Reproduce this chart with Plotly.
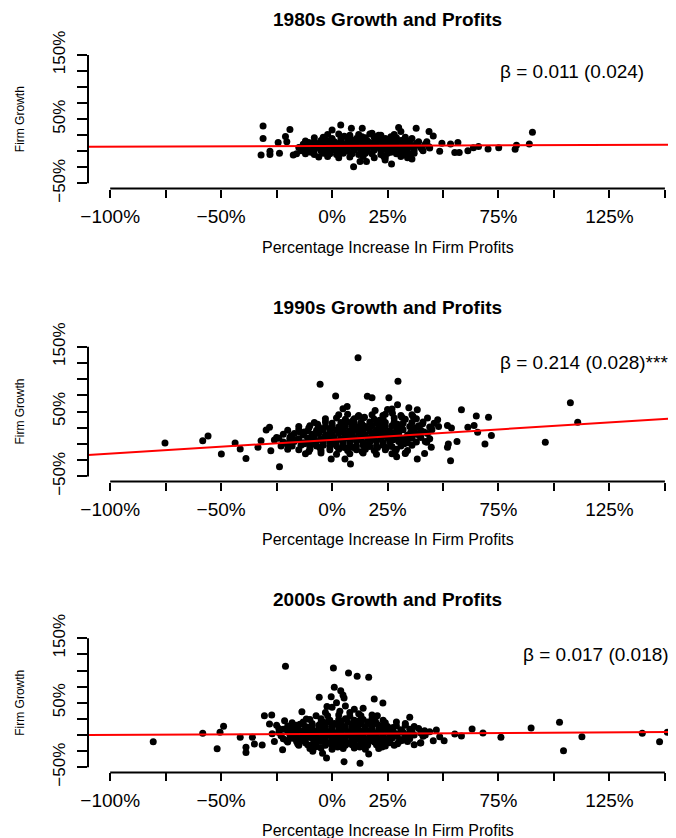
import plotly.graph_objects as go

# ---------------- data ----------------
titles = ["1980s Growth and Profits", "1990s Growth and Profits", "2000s Growth and Profits"]
beta_labels = ["β = 0.011 (0.024)", "β = 0.214 (0.028)***", "β = 0.017 (0.018)"]
beta_x = [0.75, 0.75, 0.85]
beta_y = [1.25, 1.25, 1.25]
intercepts = [0.084, 0.065, 0.019]
slopes = [0.011, 0.214, 0.017]

x_tick_vals = [-1.0, -0.75, -0.5, -0.25, 0.0, 0.25, 0.5, 0.75, 1.0, 1.25, 1.5]
x_tick_text = ["−100%", "", "−50%", "", "0%", "25%", "", "75%", "", "125%", ""]
y_tick_vals = [-0.5, -0.25, 0.0, 0.25, 0.5, 0.75, 1.0, 1.25, 1.5]
y_tick_text = ["−50%", "", "", "", "50%", "", "", "", "150%"]
x_label = "Percentage Increase In Firm Profits"
y_label = "Firm Growth"

# (profit increase, firm growth) pairs
points_1980s = [
    (-0.311, 0.395), (-0.311, 0.20), (-0.32, -0.057), (-0.28, 0.0), (-0.28, -0.05),
    (-0.243, 0.135), (-0.237, -0.03), (-0.21, 0.23), (-0.19, 0.34), (-0.204, 0.15),
    (-0.175, -0.057), (-0.16, -0.04), (0.039, 0.41), (0.087, 0.36), (0.136, 0.36),
    (0.0, 0.33), (0.30, 0.37), (0.379, 0.36), (0.31, 0.31), (0.437, 0.31), (0.456, 0.24),
    (0.18, 0.28), (0.21, 0.25), (0.097, -0.24), (0.126, -0.16), (0.155, -0.16),
    (0.239, -0.135), (0.268, -0.2), (0.34, -0.1), (0.233, -0.083), (0.495, 0.125),
    (0.534, 0.114), (0.567, 0.135), (0.553, -0.02), (0.573, -0.02), (0.612, 0.01),
    (0.637, 0.057), (0.66, 0.073), (0.703, 0.036), (0.751, 0.057), (0.825, 0.03),
    (0.831, 0.094), (0.889, 0.114), (0.903, 0.296), (0.485, 0.0), (0.437, 0.07),
    (0.427, 0.15), (0.35, -0.05), (0.36, -0.12),
    (-0.02, 0.26), (0.03, 0.27), (0.08, 0.25), (0.12, 0.26), (0.17, 0.27), (0.22, 0.25), (0.28, 0.26),
    (-0.08, 0.21), (-0.04, 0.22), (0.0, 0.20), (0.04, 0.21), (0.07, 0.22), (0.11, 0.20), (0.15, 0.21),
    (0.19, 0.22), (0.24, 0.20), (0.29, 0.21), (0.33, 0.22), (0.36, 0.20),
    (-0.12, 0.16), (-0.08, 0.15), (-0.05, 0.17), (-0.02, 0.16), (0.01, 0.15), (0.04, 0.17), (0.07, 0.16),
    (0.10, 0.15), (0.13, 0.17), (0.16, 0.16), (0.19, 0.15), (0.22, 0.17), (0.25, 0.16), (0.28, 0.15),
    (0.31, 0.17), (0.35, 0.16), (0.39, 0.15),
    (-0.13, 0.11), (-0.10, 0.10), (-0.07, 0.12), (-0.04, 0.11), (-0.01, 0.10), (0.02, 0.12), (0.05, 0.11),
    (0.08, 0.10), (0.11, 0.12), (0.14, 0.11), (0.17, 0.10), (0.20, 0.12), (0.23, 0.11), (0.26, 0.10),
    (0.29, 0.12), (0.32, 0.11), (0.35, 0.10), (0.38, 0.12), (0.42, 0.11),
    (-0.15, 0.06), (-0.12, 0.05), (-0.09, 0.07), (-0.06, 0.06), (-0.03, 0.05), (0.00, 0.07), (0.03, 0.06),
    (0.06, 0.05), (0.09, 0.07), (0.12, 0.06), (0.15, 0.05), (0.18, 0.07), (0.21, 0.06), (0.24, 0.05),
    (0.27, 0.07), (0.30, 0.06), (0.33, 0.05), (0.36, 0.07), (0.40, 0.06), (0.44, 0.05),
    (-0.14, 0.01), (-0.11, 0.00), (-0.08, 0.02), (-0.05, 0.01), (-0.02, 0.00), (0.01, 0.02), (0.04, 0.01),
    (0.07, 0.00), (0.10, 0.02), (0.13, 0.01), (0.16, 0.00), (0.19, 0.02), (0.22, 0.01), (0.25, 0.00),
    (0.28, 0.02), (0.31, 0.01), (0.34, 0.00), (0.37, 0.02), (0.41, 0.01),
    (-0.12, -0.04), (-0.08, -0.05), (-0.04, -0.03), (-0.01, -0.04), (0.02, -0.05), (0.05, -0.03),
    (0.09, -0.04), (0.12, -0.05), (0.15, -0.03), (0.18, -0.04), (0.22, -0.05), (0.25, -0.03),
    (0.29, -0.04), (0.33, -0.05), (0.37, -0.03),
    (-0.06, -0.09), (-0.02, -0.08), (0.03, -0.10), (0.08, -0.09), (0.14, -0.08), (0.19, -0.10),
    (0.24, -0.09), (0.31, -0.08),
    (-0.105, 0.135), (-0.075, 0.085), (-0.045, 0.035), (-0.015, 0.135), (0.015, 0.085), (0.045, 0.035),
    (0.075, 0.135), (0.105, 0.085), (0.135, 0.035), (0.165, 0.135), (0.195, 0.085), (0.225, 0.035),
    (0.255, 0.135), (0.285, 0.085), (0.315, 0.035), (0.345, 0.135), (0.375, 0.085), (0.405, 0.035),
    (-0.095, -0.015), (-0.035, 0.185), (0.025, -0.015), (0.085, 0.185), (0.145, -0.015), (0.205, 0.185),
    (0.265, -0.015), (0.325, 0.185), (0.055, 0.235), (0.135, 0.225), (0.205, 0.235), (0.265, 0.225),
]

points_1990s = [
    (-0.753, 0.015), (-0.583, 0.05), (-0.559, 0.124), (-0.499, -0.155), (-0.437, 0.015),
    (-0.414, -0.078), (-0.388, -0.222), (-0.334, -0.05), (-0.32, 0.05), (-0.297, 0.217),
    (-0.282, 0.258), (-0.276, -0.103), (-0.237, -0.35), (-0.25, 0.10), (-0.23, -0.03),
    (-0.20, -0.08), (-0.19, 0.07), (-0.26, 0.06), (-0.054, 0.92), (0.016, 0.74), (0.117, 1.33),
    (0.159, 0.734), (0.18, 0.713), (0.256, 0.713), (0.297, 0.966), (0.295, 0.605), (0.27, 0.54),
    (0.25, 0.53), (0.346, 0.558), (0.384, 0.527), (0.049, 0.543), (0.068, 0.579),
    (0.117, 0.424), (0.146, 0.413), (0.194, 0.517), (0.229, 0.44), (0.272, 0.475),
    (0.315, 0.413), (0.365, 0.424), (0.408, 0.31), (0.447, 0.248), (0.476, 0.372),
    (0.52, 0.284), (0.538, 0.248), (0.524, 0.0), (0.534, -0.258), (0.563, 0.04),
    (0.583, 0.527), (0.612, 0.258), (0.64, 0.284), (0.65, 0.43), (0.656, 0.18),
    (0.689, 0.0), (0.705, 0.413), (0.718, 0.13), (0.961, 0.026), (1.074, 0.636), (1.107, 0.336),
    (0.384, -0.233), (0.058, -0.233), (0.083, -0.31), (-0.004, -0.233), (0.291, -0.196),
    (0.33, -0.145), (0.427, 0.026), (0.447, -0.052), (0.417, -0.145), (0.52, -0.05),
    (0.03, 0.45), (0.07, 0.46), (0.12, 0.44), (0.18, 0.45), (0.24, 0.46), (0.31, 0.44), (0.36, 0.45),
    (-0.03, 0.39), (0.02, 0.40), (0.06, 0.38), (0.10, 0.39), (0.14, 0.40), (0.19, 0.38), (0.23, 0.39),
    (0.28, 0.40), (0.33, 0.38), (0.38, 0.39), (0.43, 0.40),
    (-0.08, 0.33), (-0.03, 0.34), (0.00, 0.32), (0.04, 0.33), (0.07, 0.34), (0.10, 0.32), (0.13, 0.33),
    (0.17, 0.34), (0.20, 0.32), (0.24, 0.33), (0.28, 0.34), (0.32, 0.32), (0.36, 0.33), (0.41, 0.34),
    (0.46, 0.32),
    (-0.15, 0.27), (-0.10, 0.28), (-0.06, 0.26), (-0.03, 0.27), (0.00, 0.28), (0.03, 0.26), (0.06, 0.27),
    (0.09, 0.28), (0.12, 0.26), (0.15, 0.27), (0.18, 0.28), (0.21, 0.26), (0.24, 0.27), (0.27, 0.28),
    (0.31, 0.26), (0.35, 0.27), (0.39, 0.28), (0.44, 0.26), (0.48, 0.27),
    (-0.20, 0.21), (-0.15, 0.22), (-0.11, 0.20), (-0.07, 0.21), (-0.04, 0.22), (-0.01, 0.20), (0.02, 0.21),
    (0.05, 0.22), (0.08, 0.20), (0.11, 0.21), (0.14, 0.22), (0.17, 0.20), (0.20, 0.21), (0.23, 0.22),
    (0.26, 0.20), (0.29, 0.21), (0.32, 0.22), (0.36, 0.20), (0.40, 0.21), (0.45, 0.22),
    (-0.22, 0.15), (-0.17, 0.16), (-0.13, 0.14), (-0.09, 0.15), (-0.06, 0.16), (-0.03, 0.14), (0.00, 0.15),
    (0.03, 0.16), (0.06, 0.14), (0.09, 0.15), (0.12, 0.16), (0.15, 0.14), (0.18, 0.15), (0.21, 0.16),
    (0.24, 0.14), (0.27, 0.15), (0.30, 0.16), (0.34, 0.14), (0.38, 0.15), (0.43, 0.16),
    (-0.24, 0.09), (-0.19, 0.10), (-0.15, 0.08), (-0.11, 0.09), (-0.08, 0.10), (-0.05, 0.08), (-0.02, 0.09),
    (0.01, 0.10), (0.04, 0.08), (0.07, 0.09), (0.10, 0.10), (0.13, 0.08), (0.16, 0.09), (0.19, 0.10),
    (0.22, 0.08), (0.25, 0.09), (0.28, 0.10), (0.32, 0.08), (0.36, 0.09), (0.40, 0.10), (0.44, 0.08),
    (-0.22, 0.03), (-0.17, 0.04), (-0.13, 0.02), (-0.10, 0.03), (-0.07, 0.04), (-0.04, 0.02), (-0.01, 0.03),
    (0.02, 0.04), (0.05, 0.02), (0.08, 0.03), (0.11, 0.04), (0.14, 0.02), (0.17, 0.03), (0.20, 0.04),
    (0.23, 0.02), (0.26, 0.03), (0.30, 0.04), (0.34, 0.02), (0.38, 0.03), (0.42, 0.04),
    (-0.18, -0.03), (-0.14, -0.02), (-0.10, -0.04), (-0.07, -0.03), (-0.04, -0.02), (-0.01, -0.04),
    (0.02, -0.03), (0.05, -0.02), (0.08, -0.04), (0.11, -0.03), (0.14, -0.02), (0.17, -0.04),
    (0.20, -0.03), (0.23, -0.02), (0.27, -0.04), (0.31, -0.03), (0.36, -0.02),
    (-0.15, -0.09), (-0.10, -0.08), (-0.05, -0.10), (-0.01, -0.09), (0.03, -0.08), (0.07, -0.10),
    (0.11, -0.09), (0.15, -0.08), (0.19, -0.10), (0.24, -0.09), (0.29, -0.08), (0.34, -0.10),
    (-0.12, -0.15), (-0.05, -0.14), (0.02, -0.16), (0.08, -0.15), (0.14, -0.14), (0.20, -0.16),
    (0.27, -0.15), (0.33, -0.14),
    (-0.125, 0.185), (-0.085, 0.125), (-0.045, 0.065), (-0.005, 0.245), (0.035, 0.185), (0.075, 0.125),
    (0.115, 0.065), (0.155, 0.245), (0.195, 0.185), (0.235, 0.125), (0.275, 0.065), (0.315, 0.245),
    (0.355, 0.185), (0.395, 0.125), (-0.165, 0.065), (-0.125, 0.005), (-0.055, -0.055), (0.015, 0.005),
    (0.095, -0.055), (0.165, 0.005), (0.245, -0.055), (0.325, 0.005), (0.055, 0.305), (0.135, 0.305),
    (0.215, 0.305), (0.295, 0.305), (0.095, 0.365), (0.215, 0.365),
    (-0.185, 0.125), (-0.145, 0.185), (-0.105, 0.245), (-0.065, 0.305), (-0.025, 0.125), (0.055, 0.185),
    (0.095, 0.245), (0.135, 0.125), (0.175, 0.065), (0.255, 0.185), (0.295, 0.125), (0.335, 0.065),
    (0.375, 0.245), (0.415, 0.185), (-0.205, 0.005), (-0.085, 0.005), (0.055, -0.055), (0.135, -0.115),
    (0.205, -0.055), (0.285, -0.115), (-0.105, -0.115),
]

points_2000s = [
    (-0.806, -0.103), (-0.583, 0.026), (-0.518, -0.212), (-0.505, 0.041), (-0.489, 0.134),
    (-0.414, -0.036), (-0.388, -0.19), (-0.388, -0.27), (-0.359, -0.036), (-0.35, -0.14),
    (-0.315, -0.155), (-0.305, 0.30), (-0.272, 0.31), (-0.282, 0.17), (-0.223, -0.227),
    (-0.214, 0.222), (-0.21, 1.065), (-0.136, 0.362), (-0.116, 0.248), (-0.087, -0.253),
    (-0.072, 0.30), (-0.058, 0.584), (-0.043, -0.284), (-0.025, -0.357), (-0.023, 0.44),
    (0.0, 0.43), (0.006, 1.04), (0.01, 0.74), (0.039, 0.687), (0.049, 0.62), (0.054, 0.574),
    (0.074, 0.961), (0.113, 0.91), (0.165, 0.894), (-0.004, 0.594), (0.035, 0.367),
    (0.14, 0.413), (0.19, 0.558), (0.229, 0.496), (0.054, -0.413), (0.126, -0.439),
    (0.165, -0.295), (0.204, 0.30), (0.35, 0.274), (0.417, 0.067), (0.47, 0.078),
    (0.485, -0.026), (0.456, -0.088), (0.505, -0.088), (0.398, -0.124), (0.553, 0.016),
    (0.583, -0.016), (0.631, 0.093), (0.68, 0.031), (0.761, -0.036), (0.897, 0.109),
    (1.025, 0.196), (1.043, -0.243), (1.126, -0.026), (1.398, 0.026), (1.476, -0.103),
    (1.511, 0.041), (-0.25, 0.15), (-0.27, 0.02), (-0.26, -0.10), (-0.24, 0.10),
    (0.42, 0.0), (0.44, 0.05), (0.37, -0.15), (0.40, -0.12), (0.02, 0.50), (0.06, 0.45),
    (0.10, 0.40), (0.08, 0.35), (-0.03, 0.35), (0.12, 0.33),
    (-0.02, 0.30), (0.03, 0.31), (0.08, 0.29), (0.13, 0.30), (0.18, 0.31),
    (-0.10, 0.24), (-0.05, 0.25), (-0.01, 0.23), (0.03, 0.24), (0.06, 0.25), (0.10, 0.23), (0.14, 0.24),
    (0.18, 0.25), (0.23, 0.23),
    (-0.18, 0.19), (-0.13, 0.20), (-0.09, 0.18), (-0.05, 0.19), (-0.02, 0.20), (0.01, 0.18), (0.04, 0.19),
    (0.07, 0.20), (0.10, 0.18), (0.13, 0.19), (0.16, 0.20), (0.20, 0.18), (0.24, 0.19), (0.29, 0.20),
    (0.33, 0.18),
    (-0.20, 0.14), (-0.16, 0.15), (-0.12, 0.13), (-0.09, 0.14), (-0.06, 0.15), (-0.03, 0.13), (0.00, 0.14),
    (0.03, 0.15), (0.06, 0.13), (0.09, 0.14), (0.12, 0.15), (0.15, 0.13), (0.18, 0.14), (0.21, 0.15),
    (0.25, 0.13), (0.29, 0.14), (0.33, 0.15), (0.37, 0.13),
    (-0.22, 0.09), (-0.18, 0.10), (-0.15, 0.08), (-0.12, 0.09), (-0.09, 0.10), (-0.06, 0.08), (-0.03, 0.09),
    (0.00, 0.10), (0.03, 0.08), (0.06, 0.09), (0.09, 0.10), (0.12, 0.08), (0.15, 0.09), (0.18, 0.10),
    (0.21, 0.08), (0.24, 0.09), (0.27, 0.10), (0.31, 0.08), (0.35, 0.09), (0.39, 0.10),
    (-0.24, 0.04), (-0.20, 0.05), (-0.17, 0.03), (-0.14, 0.04), (-0.11, 0.05), (-0.08, 0.03), (-0.05, 0.04),
    (-0.02, 0.05), (0.01, 0.03), (0.04, 0.04), (0.07, 0.05), (0.10, 0.03), (0.13, 0.04), (0.16, 0.05),
    (0.19, 0.03), (0.22, 0.04), (0.25, 0.05), (0.28, 0.03), (0.32, 0.04), (0.36, 0.05), (0.40, 0.03),
    (-0.23, -0.01), (-0.19, 0.00), (-0.16, -0.02), (-0.13, -0.01), (-0.10, 0.00), (-0.07, -0.02),
    (-0.04, -0.01), (-0.01, 0.00), (0.02, -0.02), (0.05, -0.01), (0.08, 0.00), (0.11, -0.02),
    (0.14, -0.01), (0.17, 0.00), (0.20, -0.02), (0.23, -0.01), (0.26, 0.00), (0.29, -0.02),
    (0.33, -0.01), (0.37, 0.00), (0.41, -0.02),
    (-0.22, -0.06), (-0.18, -0.05), (-0.15, -0.07), (-0.12, -0.06), (-0.09, -0.05), (-0.06, -0.07),
    (-0.03, -0.06), (0.00, -0.05), (0.03, -0.07), (0.06, -0.06), (0.09, -0.05), (0.12, -0.07),
    (0.15, -0.06), (0.18, -0.05), (0.21, -0.07), (0.24, -0.06), (0.27, -0.05), (0.31, -0.07),
    (0.35, -0.06),
    (-0.20, -0.11), (-0.16, -0.10), (-0.12, -0.12), (-0.08, -0.11), (-0.05, -0.10), (-0.02, -0.12),
    (0.01, -0.11), (0.04, -0.10), (0.07, -0.12), (0.10, -0.11), (0.13, -0.10), (0.16, -0.12),
    (0.19, -0.11), (0.22, -0.10), (0.26, -0.12), (0.30, -0.11), (0.34, -0.10),
    (-0.15, -0.16), (-0.11, -0.15), (-0.07, -0.17), (-0.03, -0.16), (0.00, -0.15), (0.03, -0.17),
    (0.06, -0.16), (0.09, -0.15), (0.12, -0.17), (0.16, -0.16), (0.20, -0.15), (0.24, -0.17),
    (0.28, -0.16),
    (-0.10, -0.21), (-0.05, -0.20), (0.00, -0.22), (0.05, -0.21), (0.10, -0.20), (0.15, -0.22),
    (0.21, -0.21),
    (-0.145, 0.165), (-0.105, 0.115), (-0.065, 0.065), (-0.025, 0.015), (0.015, 0.165), (0.055, 0.115),
    (0.095, 0.065), (0.135, 0.015), (0.175, 0.165), (0.215, 0.115), (0.255, 0.065), (0.295, 0.015),
    (-0.185, -0.035), (-0.135, -0.085), (-0.085, -0.135), (-0.035, -0.035), (0.015, -0.085),
    (0.065, -0.135), (0.115, -0.035), (0.165, -0.085), (0.215, -0.135), (0.265, -0.035),
    (0.315, -0.085), (-0.045, 0.215), (0.035, 0.215), (0.115, 0.215), (0.195, 0.215),
    (-0.165, 0.115), (-0.125, 0.065), (-0.085, 0.015), (-0.045, 0.115), (0.035, 0.065), (0.075, 0.015),
    (0.115, 0.115), (0.155, 0.065), (0.195, 0.015), (0.235, 0.165), (0.275, 0.115), (0.315, 0.065),
    (0.345, 0.015), (-0.205, -0.085), (-0.155, -0.135), (-0.105, -0.035), (-0.055, -0.085),
    (-0.005, -0.135), (0.045, -0.035), (0.095, -0.085), (0.145, -0.135), (0.195, -0.035),
    (0.245, -0.085), (0.295, -0.135), (0.335, -0.035), (-0.075, -0.185), (0.025, -0.185),
    (0.125, -0.185), (0.225, -0.185),
]

all_points = [points_1980s, points_1990s, points_2000s]

# ---------------- layout geometry ----------------
# The page body has an 8px margin, so the figure is 8px smaller and all
# pixel positions (measured on the 676x838 screenshot) are shifted by 8px.
PAGE_OFF = 8
W, H = 676 - PAGE_OFF, 838 - PAGE_OFF
FONT = "Liberation Sans, Arial, Helvetica, sans-serif"
left_px = 88 - PAGE_OFF
panel_px = [(49.9, 188.5), (341.5, 481.6), (633.1, 772.4)]   # plot-region top/bottom (screen px)
title_px = [19.5, 307.5, 599]
xlab_px = [247, 539.5, 830]
ylab_x_px = 20
center_x_px = 387.5
x_range = [-1.1, 1.55]
y_range = [-0.58, 1.58]
line_x = [-1.1, 1.6]


def px_x(p):
    return (p - PAGE_OFF) / W


def px_y(p):
    return 1 - (p - PAGE_OFF) / H


fig = go.Figure()
layout = dict(
    width=W, height=H, margin=dict(l=0, r=0, t=0, b=0, autoexpand=False),
    paper_bgcolor="white", plot_bgcolor="white", showlegend=False,
    font=dict(family=FONT, color="black"),
)
shapes, annotations = [], []

for i, pts in enumerate(all_points):
    ax = "" if i == 0 else str(i + 1)
    xs = [p[0] for p in pts]
    ys = [p[1] for p in pts]
    fig.add_trace(go.Scatter(
        x=xs, y=ys, mode="markers", xaxis="x" + ax, yaxis="y" + ax,
        marker=dict(color="black", size=7, line=dict(width=0)), hoverinfo="skip"))
    fig.add_trace(go.Scatter(
        x=line_x, y=[intercepts[i] + slopes[i] * v for v in line_x], mode="lines",
        xaxis="x" + ax, yaxis="y" + ax, line=dict(color="#ff0000", width=2), hoverinfo="skip"))

    top, bottom = panel_px[i]
    layout["xaxis" + ax] = dict(
        domain=[left_px / W, 1], range=x_range, anchor="y" + ax, automargin=False,
        tickmode="array", tickvals=x_tick_vals, ticktext=x_tick_text,
        ticks="outside", ticklen=8, tickwidth=2, tickcolor="black",
        showline=False, showgrid=False, zeroline=False,
        tickfont=dict(size=19, family=FONT, color="black"), ticklabelstandoff=3,
    )
    layout["yaxis" + ax] = dict(
        domain=[px_y(bottom), px_y(top)], range=y_range, anchor="x" + ax, automargin=False,
        tickmode="array", tickvals=y_tick_vals, ticktext=y_tick_text,
        ticks="outside", ticklen=10, tickwidth=2, tickcolor="black", tickangle=-90,
        showline=False, showgrid=False, zeroline=False,
        tickfont=dict(size=17, family=FONT, color="black"), ticklabelstandoff=5,
    )
    # R-style axis lines spanning first..last tick
    shapes.append(dict(type="line", xref="x" + ax, yref="y" + ax + " domain",
                       x0=x_tick_vals[0], x1=x_tick_vals[-1], y0=0, y1=0,
                       line=dict(color="black", width=2)))
    shapes.append(dict(type="line", xref="x" + ax + " domain", yref="y" + ax,
                       x0=0, x1=0, y0=y_tick_vals[0], y1=y_tick_vals[-1],
                       line=dict(color="black", width=2)))

    annotations.append(dict(text="<b>" + titles[i] + "</b>", xref="paper", yref="paper",
                            x=px_x(center_x_px), y=px_y(title_px[i]), xanchor="center", yanchor="middle",
                            showarrow=False, font=dict(size=19, family=FONT, color="black")))
    annotations.append(dict(text=x_label, xref="paper", yref="paper",
                            x=px_x(center_x_px), y=px_y(xlab_px[i]), xanchor="center", yanchor="middle",
                            showarrow=False, font=dict(size=16, family=FONT, color="black")))
    annotations.append(dict(text=y_label, xref="paper", yref="paper", textangle=-90,
                            x=px_x(ylab_x_px), y=px_y((top + bottom) / 2), xanchor="center",
                            yanchor="middle", showarrow=False,
                            font=dict(size=12, family=FONT, color="black")))
    annotations.append(dict(text=beta_labels[i], xref="x" + ax, yref="y" + ax,
                            x=beta_x[i], y=beta_y[i], xanchor="left", yanchor="middle",
                            showarrow=False, font=dict(size=19, family=FONT, color="black")))

layout["shapes"] = shapes
layout["annotations"] = annotations
fig.update_layout(**layout)
fig.write_html("out.html")
